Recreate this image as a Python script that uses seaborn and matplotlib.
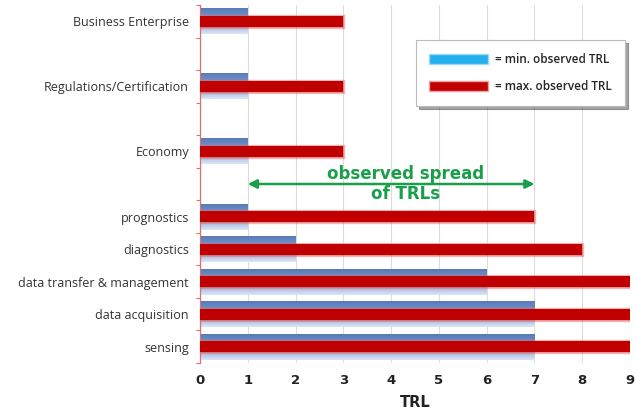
import numpy as np
import pandas as pd
import matplotlib
matplotlib.use("Agg")
import matplotlib.pyplot as plt
import matplotlib.patheffects as pe
from matplotlib.patches import Patch
import seaborn as sns

# ---- data ----
categories = ["Business Enterprise", "Regulations/Certification", "Economy",
              "prognostics", "diagnostics", "data transfer & management",
              "data acquisition", "sensing"]
min_trl = [1, 1, 1, 1, 2, 6, 7, 7]
max_trl = [3, 3, 3, 7, 8, 9, 9, 9]
# slot order top -> bottom (blank strings are empty spacer rows)
order = ["Business Enterprise", "", "Regulations/Certification", " ", "Economy", "  ",
         "prognostics", "diagnostics", "data transfer & management",
         "data acquisition", "sensing"]
x_ticks = [0, 1, 2, 3, 4, 5, 6, 7, 8, 9]
legend_labels = ["= min. observed TRL", "= max. observed TRL"]
spread_from, spread_to = 1, 7
spread_text = "observed spread\nof TRLs"

df = pd.DataFrame({"category": categories, "min": min_trl, "max": max_trl})

sns.set_theme(style="white")
plt.rcParams["font.family"] = ["Open Sans", "DejaVu Sans"]

fig = plt.figure(figsize=(6.36, 4.12), dpi=100)
ax = fig.add_axes([200/636, 1-363/412, 430/636, 358/412])

# min bars (wide, gradient blue)
sns.barplot(data=df, y="category", x="min", order=order, orient="h",
            color="#7b9bcf", width=0.8, ax=ax, zorder=2, saturation=1)
min_patches = list(ax.patches)

# max bars (narrow, dark red with soft glow)
sns.barplot(data=df, y="category", x="max", order=order, orient="h",
            color="#c00000", width=0.34, ax=ax, zorder=4, saturation=1)
max_patches = [p for p in ax.patches if p not in min_patches]

# gradient fill for blue bars
grad_cmap = matplotlib.colors.LinearSegmentedColormap.from_list(
    "g", ["#5578b4", "#6a8cc5", "#7f9fd2", "#a9bfe3", "#dbe5f4"])
grad = np.linspace(0, 1, 64).reshape(-1, 1)
for p in min_patches:
    bb = p.get_bbox()
    if bb.width <= 0:
        continue
    y_top, y_bot = min(bb.y0, bb.y1), max(bb.y0, bb.y1)
    im = ax.imshow(grad, cmap=grad_cmap, aspect="auto", origin="upper",
                   extent=(bb.x0, bb.x1, y_bot, y_top), zorder=2,
                   interpolation="bilinear")
    im.set_clip_path(p)
    p.set_facecolor("none")
    p.set_edgecolor("none")

for p in max_patches:
    p.set_edgecolor("none")
    p.set_path_effects([pe.withStroke(linewidth=2.4, foreground="#e06a6a", alpha=0.5),
                        pe.Normal()])

ax.set_xlim(0, 9)
ax.set_ylim(len(order) - 0.5, -0.5)

# grid & axes styling
ax.set_xticks(x_ticks)
ax.set_xticklabels([str(t) for t in x_ticks], fontsize=9.5, fontweight="bold",
                   family="DejaVu Sans", color="#222222")
ax.grid(axis="x", color="#dcdcdc", linewidth=0.8, zorder=0)
ax.set_axisbelow(True)
ax.tick_params(axis="x", length=0, pad=8)
ax.tick_params(axis="y", which="major", length=0, pad=8, labelsize=9,
               labelcolor="#333333")
ax.set_yticks(np.arange(-0.5, len(order), 1.0), minor=True)
ax.tick_params(axis="y", which="minor", length=3, color="#e07070", width=0.8,
               left=True)
for s in ["top", "right", "bottom"]:
    ax.spines[s].set_visible(False)
ax.spines["left"].set_color("#e07070")
ax.spines["left"].set_linewidth(0.9)
ax.set_ylabel("")
ax.set_xlabel("TRL", fontsize=10.5, fontweight="bold", family="DejaVu Sans",
              color="#222222", labelpad=6)

# spread annotation (in the spacer row between prognostics and Economy)
spread_y = order.index("  ")
ax.annotate("", xy=(spread_to, spread_y), xytext=(spread_from, spread_y),
            arrowprops=dict(arrowstyle="<|-|>", color="#1a9e4a", lw=1.8,
                            mutation_scale=13, shrinkA=0, shrinkB=0), zorder=5)
ax.text(4.3, spread_y, spread_text, ha="center", va="center", fontsize=12,
        fontweight="bold", family="DejaVu Sans", color="#1a9e4a",
        linespacing=1.1, zorder=6)

# legend
handles = [Patch(facecolor="#22b0ee", edgecolor="#9fd8f5", linewidth=1),
           Patch(facecolor="#c00000", edgecolor="#eea0a0", linewidth=1)]
leg = ax.legend(handles, legend_labels, loc="upper right",
                bbox_to_anchor=(0.988, 0.902), borderaxespad=0,
                frameon=True, shadow=True,
                fancybox=False, handlelength=5.0, handleheight=0.9,
                borderpad=1.1, labelspacing=1.2, handletextpad=0.6,
                prop={"size": 8.5, "weight": "semibold", "family": "Open Sans"})
leg.get_frame().set_edgecolor("#bbbbbb")
leg.get_frame().set_linewidth(0.8)

fig.savefig("out.png", dpi=100)
